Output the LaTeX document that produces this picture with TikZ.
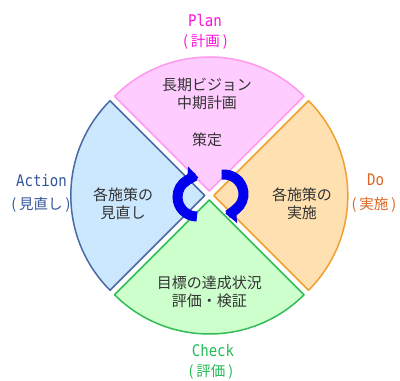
\documentclass[tikz,border=0pt]{standalone}
\usepackage{fontspec}
\usetikzlibrary{arrows.meta,calc}
\newfontfamily\jp{Noto Sans CJK JP}
\newfontfamily\monofnt[FakeStretch=0.88]{DejaVu Sans Mono}
\definecolor{planfill}{HTML}{FFCCFF}
\definecolor{planline}{HTML}{FF99EE}
\definecolor{planlabel}{HTML}{FF11DD}
\definecolor{dofill}{HTML}{FFE0B0}
\definecolor{doline}{HTML}{F0A030}
\definecolor{dolabel}{HTML}{DD6622}
\definecolor{checkfill}{HTML}{CCFFCC}
\definecolor{checkline}{HTML}{33BB55}
\definecolor{checklabel}{HTML}{22BB55}
\definecolor{actfill}{HTML}{CCE8FF}
\definecolor{actline}{HTML}{4A6AA5}
\definecolor{actlabel}{HTML}{335599}
\definecolor{txt}{HTML}{333333}
\definecolor{cycblue}{HTML}{0000EE}
\newcommand{\parenfont}{\jp\fontsize{14.5}{16}\selectfont}
\newcommand{\pl}[1]{(\kern3pt#1\kern3pt)}
\begin{document}
\begin{tikzpicture}[x=1pt,y=1pt,
  sector/.style={line width=1.5pt, line join=round},
  body/.style={text=txt, font=\jp\fontsize{15}{18}\selectfont, align=center, inner sep=0pt},
  latin/.style={font=\monofnt\fontsize{16}{18}\selectfont, anchor=base, inner sep=0pt},
  paren/.style={inner sep=0pt, font=\parenfont},
  cyc/.style={draw=cycblue, line width=10pt, -{Triangle[length=11pt,width=20pt]}}]
\useasboundingbox (0,0) rectangle (400,381);
\fill[white] (0,0) rectangle (400,381);
\def\R{134}
\coordinate (c) at (209.3,185.5);
\coordinate (pa) at ($(c)+(0,4.5)$);
\coordinate (da) at ($(c)+(4.5,0)$);
\coordinate (ca) at ($(c)+(0,-4.5)$);
\coordinate (aa) at ($(c)+(-4.5,0)$);
% sectors
\draw[sector, fill=planfill, draw=planline] (pa) -- ++(45:\R) arc[start angle=45, end angle=135, radius=\R] -- cycle;
\draw[sector, fill=dofill, draw=doline] (da) -- ++(-45:\R) arc[start angle=-45, end angle=45, radius=\R] -- cycle;
\draw[sector, fill=checkfill, draw=checkline] (ca) -- ++(225:\R) arc[start angle=225, end angle=315, radius=\R] -- cycle;
\draw[sector, fill=actfill, draw=actline] (aa) -- ++(135:\R) arc[start angle=135, end angle=225, radius=\R] -- cycle;
% cycle arrows
\coordinate (lc) at (197,184);
\coordinate (rc) at (224,187);
\draw[cyc] (lc) ++(270:19.5) arc[start angle=270, end angle=86, radius=19.5];
\draw[cyc] (rc) ++(97:19.5) arc[start angle=97, end angle=-86, radius=19.5];
% sector texts
\node[body] (ptext) at (207,286.75) {長期ビジョン\\中期計画};
\node[body] (pdo) at (207,241) {策定};
\node[body] (atext) at (123,177.5) {各施策の\\見直し};
\node[body] (dtext) at (302,177.5) {各施策の\\実施};
\node[body] (ctext) at (209.5,89.5) {目標の達成状況\\評価・検証};
% outer labels
\node[latin, text=planlabel] (plan) at (205,354) {Plan};
\node[paren, text=planlabel] (planj) at (205.5,339.5) {\pl{計画}};
\node[latin, text=actlabel] (act) at (41.5,194) {Action};
\node[paren, text=actlabel] (actj) at (41,176) {\pl{見直し}};
\node[latin, text=dolabel] (do) at (375.5,195) {Do};
\node[paren, text=dolabel] (doj) at (374,176) {\pl{実施}};
\node[latin, text=checklabel] (chk) at (213,24) {Check};
\node[paren, text=checklabel] (chkj) at (211,9.5) {\pl{評価}};
\end{tikzpicture}
\end{document}
